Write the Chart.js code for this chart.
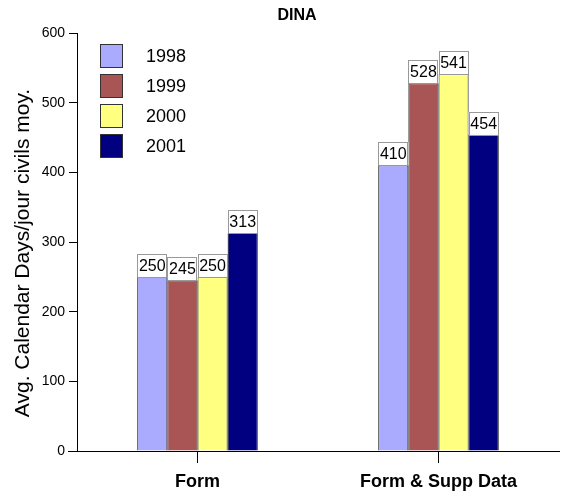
<!DOCTYPE html>
<html>
<head>
<meta charset="utf-8">
<script src="https://cdn.jsdelivr.net/npm/chart.js@4"></script>
<style>
  html, body { margin: 0; padding: 0; background: #fff; }
  #wrap { width: 563px; height: 496px; }
</style>
</head>
<body>
<div id="wrap"><canvas id="dinaChart" width="563" height="496"></canvas></div>
<script>
// data
var categories = ['Form', 'Form & Supp Data'];
var years = ['1998', '1999', '2000', '2001'];
var v1998 = [250, 410];
var v1999 = [245, 528];
var v2000 = [250, 541];
var v2001 = [313, 454];
var yTicks = [0, 100, 200, 300, 400, 500, 600];
var yTitle = 'Avg. Calendar Days/jour civils moy.';

var colors = ['#aaaaff', '#aa5555', '#ffff80', '#000080'];
var FONT = "Arial, 'Liberation Sans', sans-serif";

var series = [v1998, v1999, v2000, v2001];
var datasets = years.map(function(y, i) {
  return {
    label: y,
    data: series[i],
    backgroundColor: colors[i],
    borderColor: '#000',
    borderWidth: 1,
    borderSkipped: 'bottom'
  };
});

// title, y title, legend box and value labels
var extras = {
  id: 'extras',
  afterDatasetsDraw: function(chart) {
    var ctx = chart.ctx;
    ctx.save();
    chart.data.datasets.forEach(function(ds, i) {
      var meta = chart.getDatasetMeta(i);
      meta.data.forEach(function(bar, j) {
        var w = bar.width;
        var x0 = bar.x - w / 2;
        var h = 23;
        var y0 = bar.y - h;
        ctx.fillStyle = '#fff';
        ctx.fillRect(x0, y0, w, h);
        ctx.strokeStyle = '#999';
        ctx.lineWidth = 1;
        ctx.strokeRect(Math.round(x0) + 0.5, Math.round(y0) + 0.5, Math.round(w) - 1, h);
        ctx.fillStyle = '#000';
        ctx.font = '16px ' + FONT;
        ctx.textAlign = 'center';
        ctx.textBaseline = 'middle';
        ctx.fillText(String(ds.data[j]), bar.x, y0 + h / 2 + 1);
      });
    });
    ctx.restore();
  },
  afterDraw: function(chart) {
    var ctx = chart.ctx;
    ctx.save();
    // title
    ctx.fillStyle = '#000';
    ctx.font = 'bold 16px ' + FONT;
    ctx.textAlign = 'center';
    ctx.textBaseline = 'middle';
    ctx.fillText('DINA', 297, 16);
    // y axis title
    ctx.save();
    ctx.translate(23, 253);
    ctx.rotate(-Math.PI / 2);
    ctx.font = '21px ' + FONT;
    ctx.fillText(yTitle, 0, 0);
    ctx.restore();
    // legend
    chart.data.datasets.forEach(function(ds, i) {
      var y = 44 + i * 30;
      ctx.fillStyle = ds.backgroundColor;
      ctx.fillRect(100, y, 23, 24);
      ctx.strokeStyle = '#333';
      ctx.lineWidth = 1;
      ctx.strokeRect(100.5, y + 0.5, 22, 23);
      ctx.fillStyle = '#000';
      ctx.font = '18px ' + FONT;
      ctx.textAlign = 'left';
      ctx.textBaseline = 'middle';
      ctx.fillText(ds.label, 146, y + 13);
    });
    // x axis line running a bit left of the y axis
    var area = chart.chartArea;
    ctx.strokeStyle = '#000';
    ctx.beginPath();
    ctx.moveTo(68, Math.round(area.bottom) + 0.5);
    ctx.lineTo(area.left, Math.round(area.bottom) + 0.5);
    ctx.stroke();
    ctx.restore();
  }
};

var chart = new Chart(document.getElementById('dinaChart'), {
  type: 'bar',
  data: { labels: categories, datasets: datasets },
  plugins: [extras],
  options: {
    responsive: false,
    animation: false,
    layout: { padding: { top: 33, right: 4, left: 0, bottom: 0 } },
    plugins: {
      legend: { display: false },
      title: { display: false },
      tooltip: { enabled: false }
    },
    datasets: { bar: { categoryPercentage: 0.5, barPercentage: 1 } },
    scales: {
      x: {
        grid: { display: true, drawOnChartArea: false, offset: false, color: '#000', tickLength: 12 },
        border: { color: '#000' },
        ticks: { color: '#000', font: { family: FONT, size: 18, weight: 'bold' }, padding: 8 },
        afterFit: function(s) { s.height = 45; }
      },
      y: {
        min: 0,
        max: 600,
        afterBuildTicks: function(s) { s.ticks = yTicks.map(function(v) { return { value: v }; }); },
        grid: { drawOnChartArea: false, color: '#000', tickLength: 8 },
        border: { color: '#000' },
        ticks: { color: '#000', font: { family: FONT, size: 14 }, padding: 4 },
        afterFit: function(s) { s.width = 77; }
      }
    }
  }
});
</script>
</body>
</html>
